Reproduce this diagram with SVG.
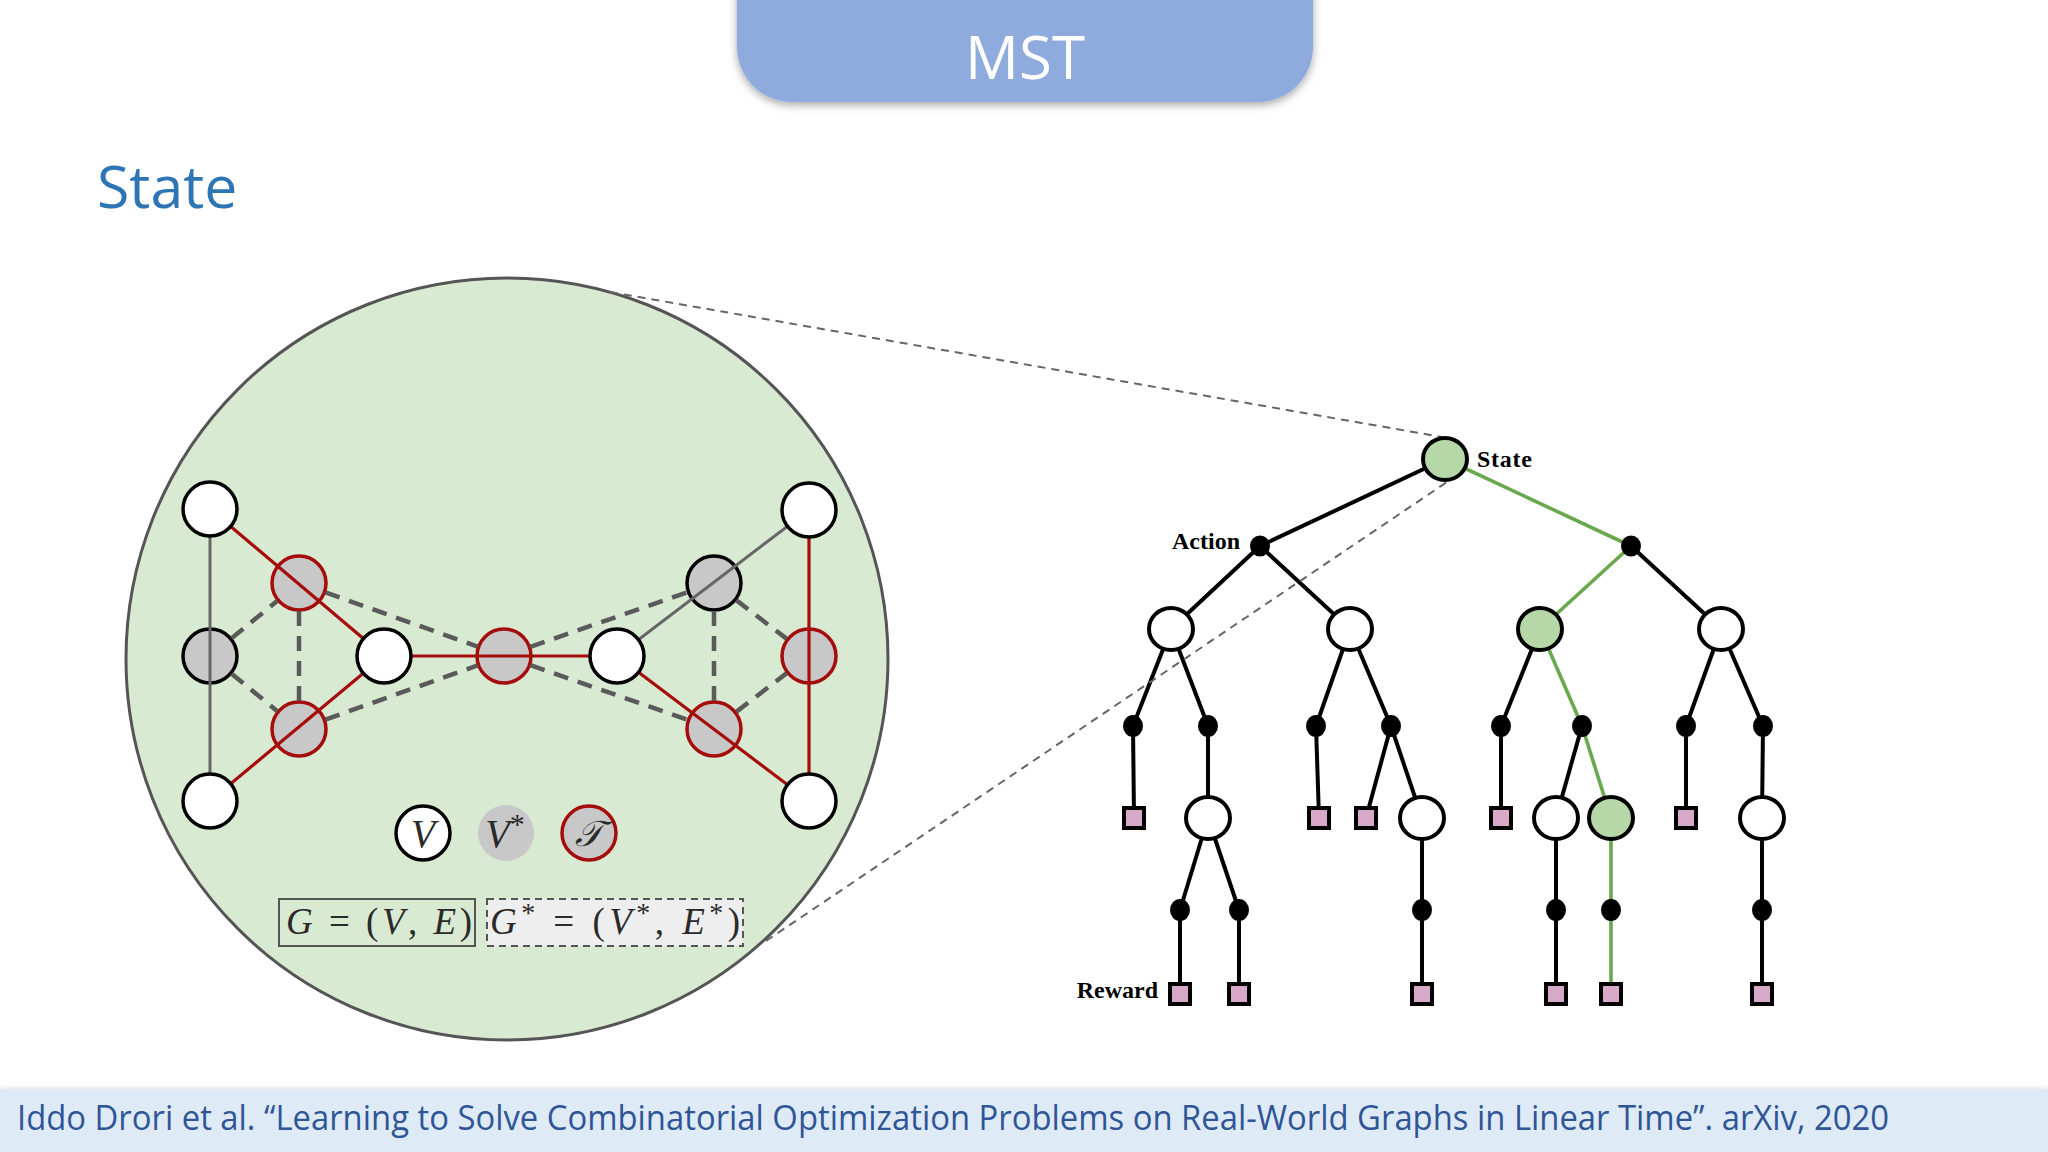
<svg xmlns="http://www.w3.org/2000/svg" width="2048" height="1152" viewBox="0 0 2048 1152">
<style>
.hdr{font-family:"Open Sans","Noto Sans",sans-serif}
.wn{fill:#fff;stroke:#000;stroke-width:3.5}
.gn{fill:#c8c8c8;stroke:#000;stroke-width:3.5}
.rn{fill:#c8c8c8;stroke:#a50d0d;stroke-width:3.5}
.dash{stroke:#5a5a5a;stroke-width:4.5;stroke-dasharray:15 10;fill:none}
.gl{stroke:#666;stroke-width:3;fill:none}
.rl{stroke:#a50d0d;stroke-width:3.2;fill:none}
.math{font-family:"Liberation Serif","DejaVu Serif",serif;fill:#2a2a2a}
.tb{stroke:#000;stroke-width:4;fill:none}
.tg{stroke:#6aa84f;stroke-width:3.6;fill:none}
.ts{fill:#fff;stroke:#000;stroke-width:4}
.tsg{fill:#b6d7a8;stroke:#000;stroke-width:4}
.dot{fill:#000}
.sq{fill:#d8a8c8;stroke:#000;stroke-width:4}
.lbl{font-family:"Liberation Serif","Times New Roman",serif;font-weight:bold;font-size:24px;fill:#000}
.zoom{stroke:#666;stroke-width:2;stroke-dasharray:8 6;fill:none}
</style>
<defs>
<filter id="sh" x="-10%" y="-50%" width="120%" height="200%">
<feDropShadow dx="0" dy="3" stdDeviation="4" flood-color="#000" flood-opacity="0.35"/>
</filter>
</defs>
<rect width="2048" height="1152" fill="#fff"/>

<g id="title">
<rect x="737" y="-60" width="576" height="162" rx="55" fill="#8faadc" filter="url(#sh)"/>
<text x="1025" y="79" class="hdr" font-size="60" fill="#fff" text-anchor="middle">MST</text>
</g>
<g id="heading">
<text x="97" y="208" class="hdr" font-size="59" fill="#2e75b6">State</text>
</g>

<g id="footer">
<rect x="0" y="1089" width="2048" height="70" fill="#deebf7" filter="url(#sh)"/>
<text x="17" y="1130" class="hdr" font-size="34" fill="#2f5597" textLength="1872" lengthAdjust="spacingAndGlyphs">Iddo Drori et al. “Learning to Solve Combinatorial Optimization Problems on Real-World Graphs in Linear Time”. arXiv, 2020</text>
</g>

<g id="state-circle">
<circle cx="507" cy="659" r="381" fill="#d9ead3" stroke="#555" stroke-width="3"/>
</g>

<g id="g-mid-left"><circle cx="210" cy="656" r="27" class="gn"/></g>
<g id="g-upper-left"><circle cx="299" cy="583" r="27" class="rn"/></g>
<g id="g-lower-left"><circle cx="299" cy="729" r="27" class="rn"/></g>
<g id="g-center"><circle cx="504" cy="656" r="27" class="rn"/></g>
<g id="g-upper-right"><circle cx="714" cy="583" r="27" class="gn"/></g>
<g id="g-lower-right"><circle cx="714" cy="729" r="27" class="rn"/></g>
<g id="g-mid-right"><circle cx="809" cy="656" r="27" class="rn"/></g>

<g id="connectors">
<g id="graph-dashed">
<line class="dash" x1="231.6" y1="638.2" x2="277.4" y2="600.8"/>
<line class="dash" x1="231.6" y1="673.8" x2="277.4" y2="711.2"/>
<line class="dash" x1="299" y1="611" x2="299" y2="701"/>
<line class="dash" x1="325.4" y1="592.4" x2="477.6" y2="646.6"/>
<line class="dash" x1="325.4" y1="719.6" x2="477.6" y2="665.4"/>
<line class="dash" x1="530.4" y1="646.8" x2="687.6" y2="592.2"/>
<line class="dash" x1="530.4" y1="665.2" x2="687.6" y2="719.8"/>
<line class="dash" x1="714" y1="611" x2="714" y2="701"/>
<line class="dash" x1="736.2" y1="600.1" x2="786.8" y2="638.9"/>
<line class="dash" x1="736.2" y1="711.9" x2="786.8" y2="673.1"/>
</g>
<g id="graph-solid">
<line class="gl" x1="210" y1="509" x2="210" y2="801"/>
<line class="gl" x1="617" y1="656" x2="809" y2="510"/>
<line class="rl" x1="210" y1="509" x2="384" y2="656"/>
<line class="rl" x1="210" y1="801" x2="384" y2="656"/>
<line class="rl" x1="384" y1="656" x2="617" y2="656"/>
<line class="rl" x1="617" y1="656" x2="809" y2="801"/>
<line class="rl" x1="809" y1="510" x2="809" y2="801"/>
</g>
<g id="tree-edges">
<line class="tb" x1="1445" y1="459" x2="1260" y2="546"/>
<line class="tg" x1="1445" y1="459" x2="1631" y2="546"/>
<line class="tb" x1="1260" y1="546" x2="1171" y2="629"/>
<line class="tb" x1="1260" y1="546" x2="1350" y2="629"/>
<line class="tg" x1="1631" y1="546" x2="1540" y2="629"/>
<line class="tb" x1="1631" y1="546" x2="1721" y2="629"/>
<line class="tb" x1="1171" y1="629" x2="1133" y2="726"/>
<line class="tb" x1="1171" y1="629" x2="1208" y2="726"/>
<line class="tb" x1="1350" y1="629" x2="1316" y2="726"/>
<line class="tb" x1="1350" y1="629" x2="1391" y2="726"/>
<line class="tb" x1="1540" y1="629" x2="1501" y2="726"/>
<line class="tg" x1="1540" y1="629" x2="1582" y2="726"/>
<line class="tb" x1="1721" y1="629" x2="1686" y2="726"/>
<line class="tb" x1="1721" y1="629" x2="1763" y2="726"/>
<line class="tb" x1="1133" y1="726" x2="1134" y2="818"/>
<line class="tb" x1="1208" y1="726" x2="1208" y2="818"/>
<line class="tb" x1="1316" y1="726" x2="1319" y2="818"/>
<line class="tb" x1="1391" y1="726" x2="1366" y2="818"/>
<line class="tb" x1="1391" y1="726" x2="1422" y2="818"/>
<line class="tb" x1="1501" y1="726" x2="1501" y2="818"/>
<line class="tb" x1="1582" y1="726" x2="1556" y2="818"/>
<line class="tg" x1="1582" y1="726" x2="1611" y2="818"/>
<line class="tb" x1="1686" y1="726" x2="1686" y2="818"/>
<line class="tb" x1="1763" y1="726" x2="1762" y2="818"/>
<line class="tb" x1="1208" y1="818" x2="1180" y2="910"/>
<line class="tb" x1="1208" y1="818" x2="1239" y2="910"/>
<line class="tb" x1="1422" y1="818" x2="1422" y2="910"/>
<line class="tb" x1="1556" y1="818" x2="1556" y2="910"/>
<line class="tg" x1="1611" y1="818" x2="1611" y2="910"/>
<line class="tb" x1="1762" y1="818" x2="1762" y2="910"/>
<line class="tb" x1="1180" y1="910" x2="1180" y2="994"/>
<line class="tb" x1="1239" y1="910" x2="1239" y2="994"/>
<line class="tb" x1="1422" y1="910" x2="1422" y2="994"/>
<line class="tb" x1="1556" y1="910" x2="1556" y2="994"/>
<line class="tg" x1="1611" y1="910" x2="1611" y2="994"/>
<line class="tb" x1="1762" y1="910" x2="1762" y2="994"/>
</g>
</g>

<g id="g-top-left"><circle cx="210" cy="509" r="27" class="wn"/></g>
<g id="g-bottom-left"><circle cx="210" cy="801" r="27" class="wn"/></g>
<g id="g-white-cl"><circle cx="384" cy="656" r="27" class="wn"/></g>
<g id="g-white-cr"><circle cx="617" cy="656" r="27" class="wn"/></g>
<g id="g-top-right"><circle cx="809" cy="510" r="27" class="wn"/></g>
<g id="g-bottom-right"><circle cx="809" cy="801" r="27" class="wn"/></g>

<g id="legend-V"><circle cx="423" cy="833" r="27" class="wn"/><text x="423" y="847" class="math" font-size="40" font-style="italic" text-anchor="middle">V</text></g>
<g id="legend-Vstar"><circle cx="506" cy="833" r="28" fill="#c8c8c8"/><text x="505" y="847" class="math" font-size="40" font-style="italic" text-anchor="middle">V<tspan font-style="normal" font-size="30" dy="-13">*</tspan></text></g>
<g id="legend-T"><circle cx="589" cy="833" r="27" class="rn"/><text x="589" y="846" class="math" font-size="36" font-style="italic" text-anchor="middle">𝒯</text></g>

<g id="box-G">
<rect x="279" y="899" width="196" height="47" fill="none" stroke="#555" stroke-width="2"/>
<text x="286" y="934" class="math" font-size="37" textLength="186"><tspan font-style="italic">G</tspan> = (<tspan font-style="italic">V</tspan>, <tspan font-style="italic">E</tspan>)</text>
</g>
<g id="box-Gstar">
<rect x="487" y="899" width="256" height="47" fill="#eeeeee" stroke="#555" stroke-width="2" stroke-dasharray="7 5"/>
<text x="490" y="934" class="math" font-size="37" textLength="250"><tspan font-style="italic">G</tspan><tspan font-size="28" dy="-12">*</tspan><tspan dy="12"> = (</tspan><tspan font-style="italic">V</tspan><tspan font-size="28" dy="-12">*</tspan><tspan dy="12">, </tspan><tspan font-style="italic">E</tspan><tspan font-size="28" dy="-12">*</tspan><tspan dy="12">)</tspan></text>
</g>

<g id="zoom-lines">
<line class="zoom" x1="610" y1="292" x2="1442" y2="437"/>
<line class="zoom" x1="766" y1="941" x2="1447" y2="482"/>
</g>

<g id="t-root"><ellipse cx="1445" cy="459" rx="22" ry="21" class="tsg"/><text x="1477" y="467" class="lbl" textLength="55">State</text></g>
<g id="t-a1"><ellipse cx="1260" cy="546" rx="10" ry="10.5" class="dot"/><text x="1240" y="549" class="lbl" text-anchor="end">Action</text></g>
<g id="t-a2"><ellipse cx="1631" cy="546" rx="10" ry="10.5" class="dot"/></g>
<g id="t-s1"><ellipse cx="1171" cy="629" rx="22" ry="21" class="ts"/></g>
<g id="t-s2"><ellipse cx="1350" cy="629" rx="22" ry="21" class="ts"/></g>
<g id="t-s3"><ellipse cx="1540" cy="629" rx="22" ry="21" class="tsg"/></g>
<g id="t-s4"><ellipse cx="1721" cy="629" rx="22" ry="21" class="ts"/></g>
<g id="t-d1"><ellipse cx="1133" cy="726" rx="10" ry="11" class="dot"/></g>
<g id="t-d2"><ellipse cx="1208" cy="726" rx="10" ry="11" class="dot"/></g>
<g id="t-d3"><ellipse cx="1316" cy="726" rx="10" ry="11" class="dot"/></g>
<g id="t-d4"><ellipse cx="1391" cy="726" rx="10" ry="11" class="dot"/></g>
<g id="t-d5"><ellipse cx="1501" cy="726" rx="10" ry="11" class="dot"/></g>
<g id="t-d6"><ellipse cx="1582" cy="726" rx="10" ry="11" class="dot"/></g>
<g id="t-d7"><ellipse cx="1686" cy="726" rx="10" ry="11" class="dot"/></g>
<g id="t-d8"><ellipse cx="1763" cy="726" rx="10" ry="11" class="dot"/></g>
<g id="t-r1"><rect x="1124" y="808" width="20" height="20" class="sq"/></g>
<g id="t-s5"><ellipse cx="1208" cy="818" rx="22" ry="21" class="ts"/></g>
<g id="t-r2"><rect x="1309" y="808" width="20" height="20" class="sq"/></g>
<g id="t-r3"><rect x="1356" y="808" width="20" height="20" class="sq"/></g>
<g id="t-s6"><ellipse cx="1422" cy="818" rx="22" ry="21" class="ts"/></g>
<g id="t-r4"><rect x="1491" y="808" width="20" height="20" class="sq"/></g>
<g id="t-s7"><ellipse cx="1556" cy="818" rx="22" ry="21" class="ts"/></g>
<g id="t-s8"><ellipse cx="1611" cy="818" rx="22" ry="21" class="tsg"/></g>
<g id="t-r5"><rect x="1676" y="808" width="20" height="20" class="sq"/></g>
<g id="t-s9"><ellipse cx="1762" cy="818" rx="22" ry="21" class="ts"/></g>
<g id="t-d9"><ellipse cx="1180" cy="910" rx="10" ry="11" class="dot"/></g>
<g id="t-d10"><ellipse cx="1239" cy="910" rx="10" ry="11" class="dot"/></g>
<g id="t-d11"><ellipse cx="1422" cy="910" rx="10" ry="11" class="dot"/></g>
<g id="t-d12"><ellipse cx="1556" cy="910" rx="10" ry="11" class="dot"/></g>
<g id="t-d13"><ellipse cx="1611" cy="910" rx="10" ry="11" class="dot"/></g>
<g id="t-d14"><ellipse cx="1762" cy="910" rx="10" ry="11" class="dot"/></g>
<g id="t-r6"><rect x="1170" y="984" width="20" height="20" class="sq"/><text x="1158" y="998" class="lbl" text-anchor="end">Reward</text></g>
<g id="t-r7"><rect x="1229" y="984" width="20" height="20" class="sq"/></g>
<g id="t-r8"><rect x="1412" y="984" width="20" height="20" class="sq"/></g>
<g id="t-r9"><rect x="1546" y="984" width="20" height="20" class="sq"/></g>
<g id="t-r10"><rect x="1601" y="984" width="20" height="20" class="sq"/></g>
<g id="t-r11"><rect x="1752" y="984" width="20" height="20" class="sq"/></g>
</svg>
